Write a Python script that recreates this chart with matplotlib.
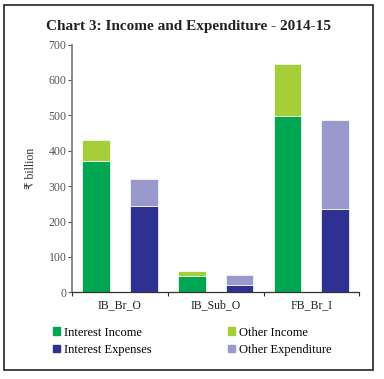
import numpy as np
import matplotlib
matplotlib.use('Agg')
from matplotlib import pyplot as plt
from matplotlib.patches import Patch, Rectangle

plt.rcParams['font.family'] = ['Liberation Serif', 'DejaVu Sans']

categories = ['IB_Br_O', 'IB_Sub_O', 'FB_Br_I']
interest_income = [371, 46, 497]
other_income = [59, 13, 148]
interest_exp = [245, 21, 235]
other_exp = [74, 27, 253]

c_int_inc = '#00a651'
c_oth_inc = '#a6ce39'
c_int_exp = '#2e3192'
c_oth_exp = '#9999cc'

fig = plt.figure(figsize=(3.84, 3.79), dpi=100)
ax = fig.add_axes([0.1875, 0.2288, 0.7482, 0.6535])

x_inc = np.arange(len(categories)) * 2
x_exp = x_inc + 1
w = 0.58
ax.bar(x_inc, interest_income, w, color=c_int_inc, edgecolor='white', linewidth=0.5)
ax.bar(x_inc, other_income, w, bottom=interest_income, color=c_oth_inc, edgecolor='white', linewidth=0.5)
ax.bar(x_exp, interest_exp, w, color=c_int_exp, edgecolor='white', linewidth=0.5)
ax.bar(x_exp, other_exp, w, bottom=interest_exp, color=c_oth_exp, edgecolor='white', linewidth=0.5)

ax.set_xlim(-0.5, 5.5)
ax.set_ylim(0, 700)
ax.set_yticks(range(0, 701, 100))
ax.set_xticks(np.arange(-0.5, 5.6, 1), minor=True)
ax.set_xticks(x_inc + 0.5)
ax.set_xticklabels(categories)
ax.tick_params(axis='x', which='major', length=0, labelsize=8.5, colors='#222222', pad=5)
ax.tick_params(axis='x', which='minor', length=3, width=0.8, color='#333333')
ax.tick_params(axis='y', length=3, width=0.8, color='#555555', labelsize=8.5, labelcolor='#555555', pad=1)

for s in ['top', 'right']:
    ax.spines[s].set_visible(False)
ax.spines['left'].set_color('#777777')
ax.spines['left'].set_linewidth(1.2)
ax.spines['bottom'].set_color('#333333')
ax.spines['bottom'].set_linewidth(0.9)

ax.set_ylabel('₹ billion', fontsize=8.5, color='#333333', labelpad=8)

fig.text(0.49, 0.929, 'Chart 3: Income and Expenditure - 2014-15',
         ha='center', va='center', fontsize=11, fontweight='bold', color='#222222')

handles = [Patch(color=c_int_inc), Patch(color=c_int_exp),
           Patch(color=c_oth_inc), Patch(color=c_oth_exp)]
labels = ['Interest Income', 'Interest Expenses', 'Other Income', 'Other Expenditure']
fig.legend(handles, labels, ncol=2, loc='upper left', bbox_to_anchor=(0.122, 0.155),
           frameon=False, fontsize=9, handlelength=0.55, handleheight=0.55,
           handletextpad=0.35, columnspacing=6.1, labelspacing=0.45, borderpad=0)

# outer frame
fig.patches.append(Rectangle((4 / 384, 1 - 370 / 379), 369 / 384, 365 / 379,
                             transform=fig.transFigure, fill=False,
                             edgecolor='#222222', linewidth=1.2))

plt.savefig('out.png', dpi=100)
